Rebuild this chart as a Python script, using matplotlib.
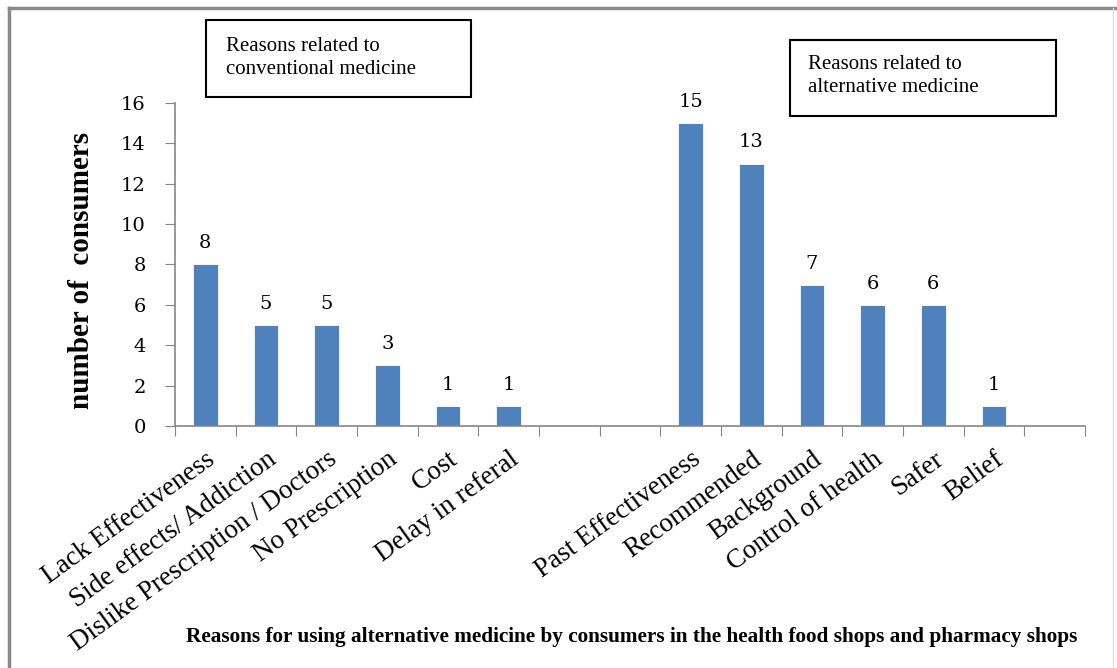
import matplotlib
matplotlib.use("Agg")
import matplotlib.pyplot as plt
from matplotlib.lines import Line2D

# Reasons for choosing alternative medicine (number of consumers)
conventional_reasons = ["Lack Effectiveness", "Side effects/ Addiction",
                        "Dislike Prescription / Doctors", "No Prescription",
                        "Cost", "Delay in referal"]
conventional_counts = [8, 5, 5, 3, 1, 1]

alternative_reasons = ["Past Effectiveness", "Recommended", "Background",
                       "Control of health", "Safer", "Belief"]
alternative_counts = [15, 13, 7, 6, 6, 1]

# Empty category slots separating the two groups and closing the axis
gap_slots = 2
trailing_slots = 1

y_ticks = [0, 2, 4, 6, 8, 10, 12, 14, 16]

plt.rcParams["font.family"] = ["Liberation Serif", "DejaVu Serif"]
wide_serif = ["DejaVu Serif"]

bar_color = "#4F81BD"
axis_gray = "#868686"

labels = conventional_reasons + [""] * gap_slots + alternative_reasons + [""] * trailing_slots
values = conventional_counts + [None] * gap_slots + alternative_counts + [None] * trailing_slots
n = len(labels)

fig = plt.figure(figsize=(11.17, 6.68), dpi=100)
ax = fig.add_axes([0.1567, 0.3623, 0.8147, 0.4835])

xs = [i for i, v in enumerate(values) if v is not None]
hs = [v for v in values if v is not None]
ax.bar(xs, hs, width=0.41, color=bar_color, edgecolor="white", linewidth=0.6, zorder=2)

for x, h in zip(xs, hs):
    ax.text(x, h + 0.6, str(h), ha="center", va="bottom", fontsize=14, family=wide_serif)

ax.set_xlim(-0.5, n - 0.5)
ax.set_ylim(0, 16)
ax.set_yticks(y_ticks)
ax.set_yticklabels([str(t) for t in y_ticks], fontsize=14, family=wide_serif)

# Category labels centred on bars, tick marks on category boundaries
ax.set_xticks([i - 0.5 for i in range(n + 1)])
ax.set_xticklabels([])
ax.set_xticks(range(n), minor=True)
ax.set_xticklabels(labels, minor=True, rotation=36, ha="right", va="top",
                   rotation_mode="anchor", fontsize=19.5)
ax.tick_params(axis="x", which="minor", length=0, pad=15)
ax.tick_params(axis="x", which="major", length=7, color=axis_gray, direction="out")
ax.tick_params(axis="y", length=7, color=axis_gray, direction="out", pad=14)

for side in ("top", "right"):
    ax.spines[side].set_visible(False)
for side in ("left", "bottom"):
    ax.spines[side].set_color(axis_gray)
    ax.spines[side].set_linewidth(1.2)

ax.set_ylabel("number of  consumers", fontsize=21, fontweight="bold")
ax.yaxis.set_label_coords(-0.088, 0.483)

# Group captions
fig.patches.append(plt.Rectangle((206 / 1117, 1 - 97 / 668), 265 / 1117, 77 / 668,
                                 transform=fig.transFigure, facecolor="white",
                                 edgecolor="black", linewidth=1.5))
fig.text(226 / 1117, 1 - 58 / 668, "Reasons related to\nconventional medicine",
         fontsize=15, ha="left", va="center", linespacing=1.3)
fig.patches.append(plt.Rectangle((790 / 1117, 1 - 116 / 668), 266 / 1117, 76 / 668,
                                 transform=fig.transFigure, facecolor="white",
                                 edgecolor="black", linewidth=1.5))
fig.text(808 / 1117, 1 - 76 / 668, "Reasons related to\nalternative medicine",
         fontsize=15, ha="left", va="center", linespacing=1.3)

fig.text(632 / 1117, 1 - 637 / 668,
         "Reasons for using alternative medicine by consumers in the health food shops and pharmacy shops",
         fontsize=15.3, fontweight="bold", ha="center", va="center")

# Outer frame
fig.add_artist(Line2D([9 / 1117, 9 / 1117], [0, 1 - 8 / 668], transform=fig.transFigure,
                      color="#8a8a8a", linewidth=2.5))
fig.add_artist(Line2D([9 / 1117, 1], [1 - 8 / 668, 1 - 8 / 668], transform=fig.transFigure,
                      color="#8a8a8a", linewidth=2.5))
fig.add_artist(Line2D([1113 / 1117, 1113 / 1117], [0, 1 - 8 / 668], transform=fig.transFigure,
                      color="#e0e0e0", linewidth=1))

fig.savefig("out.png", dpi=100)
